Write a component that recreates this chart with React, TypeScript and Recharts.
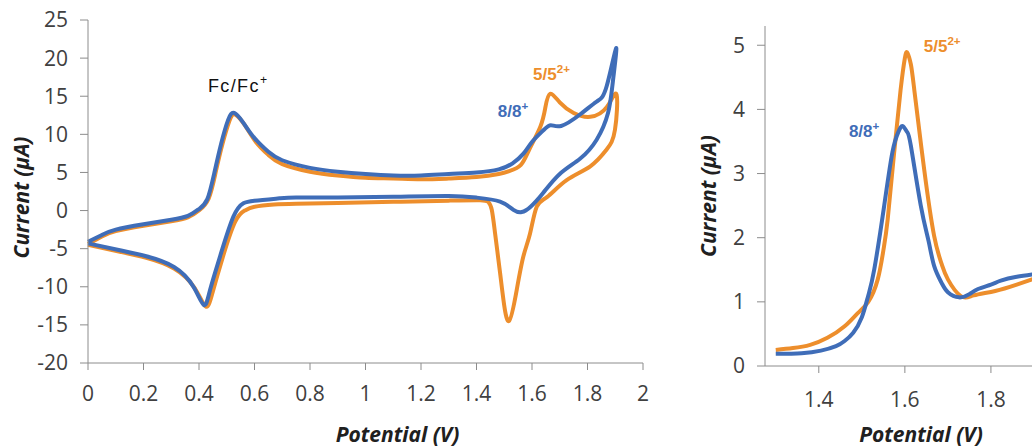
import React from 'react'
import { LineChart, Line, XAxis, YAxis, ReferenceDot } from 'recharts'

// axis ticks
const cvXTicks = [0, 0.2, 0.4, 0.6, 0.8, 1, 1.2, 1.4, 1.6, 1.8, 2]
const cvYTicks = [-20, -15, -10, -5, 0, 5, 10, 15, 20, 25]
const dpvXTicks = [1.4, 1.6, 1.8]
const dpvYTicks = [0, 1, 2, 3, 4, 5]

// CV of 8 (blue), scan order: forward sweep then return sweep
const cv8Potential = [
  0, 0.05, 0.1, 0.2, 0.3, 0.36, 0.4, 0.43, 0.455, 0.48, 0.505, 0.527, 0.56, 0.6, 0.65, 0.7, 0.8, 0.9, 1.0, 1.1,
  1.2, 1.3, 1.4, 1.48, 1.53, 1.57, 1.6, 1.64, 1.668, 1.705, 1.773, 1.833, 1.869, 1.903,
  1.892, 1.874, 1.833, 1.773, 1.7, 1.64, 1.595, 1.563, 1.533, 1.485, 1.4, 1.3, 1.1, 0.9, 0.75, 0.69, 0.6, 0.56,
  0.524, 0.476, 0.44, 0.418, 0.38, 0.31, 0.21, 0.115, 0,
]
const cv8Current = [
  -4.1, -3.2, -2.5, -1.8, -1.2, -0.7, 0.2, 1.5, 4.9, 8.8, 11.9, 12.8, 11.5, 9.5, 7.7, 6.6, 5.6, 5.1, 4.8, 4.6,
  4.6, 4.8, 5.0, 5.4, 6.2, 7.5, 9.0, 10.5, 11.2, 11.1, 12.6, 14.3, 16.3, 21.3,
  17.1, 12.8, 9.3, 6.8, 4.8, 2.3, 0.5, -0.2, 0.1, 1.17, 1.7, 1.9, 1.8, 1.7, 1.7, 1.6, 1.3, 0.96,
  -0.8, -6.0, -10.4, -12.4, -10.0, -7.4, -6.0, -5.2, -4.3,
]

// CV of 5 (orange)
const cv5Potential = [
  0, 0.05, 0.1, 0.2, 0.3, 0.36, 0.4, 0.435, 0.46, 0.485, 0.51, 0.53, 0.565, 0.605, 0.65, 0.7, 0.8, 0.9, 1.0, 1.1,
  1.2, 1.3, 1.4, 1.48, 1.52, 1.56, 1.59, 1.63, 1.648, 1.665, 1.7, 1.75, 1.81, 1.87, 1.905,
  1.899, 1.869, 1.81, 1.725, 1.655, 1.617, 1.593, 1.569, 1.545, 1.517, 1.497, 1.485, 1.467, 1.455, 1.443, 1.413,
  1.3, 1.1, 0.9, 0.75, 0.67, 0.6, 0.565, 0.53, 0.485, 0.45, 0.425, 0.385, 0.31, 0.21, 0.115, 0,
]
const cv5Current = [
  -4.4, -3.4, -2.7, -2.0, -1.4, -0.9, 0.0, 1.6, 5.0, 8.8, 11.8, 12.6, 11.2, 9.0, 7.3, 6.1, 5.1, 4.6, 4.3, 4.2,
  4.1, 4.2, 4.4, 4.8, 5.2, 6.0, 8.0, 11.0, 13.5, 15.3, 14.2, 12.8, 12.3, 13.6, 15.2,
  10.6, 8.0, 5.8, 4.0, 1.8, 0.5, -3.0, -6.0, -10.4, -14.5, -11.7, -8.2, -3.0, 0.1, 1.1, 1.35,
  1.3, 1.15, 1.0, 0.9, 0.8, 0.5, 0.0, -1.5, -6.2, -10.6, -12.6, -10.2, -7.6, -6.2, -5.4, -4.5,
]

// DPV
const dpv5Potential = [
  1.3, 1.34, 1.38, 1.42, 1.46, 1.49, 1.515, 1.537, 1.55, 1.56, 1.575, 1.59, 1.6, 1.606, 1.614, 1.622, 1.645,
  1.668, 1.685, 1.7, 1.73, 1.76, 1.81, 1.86, 1.9, 1.92,
]
const dpv5Current = [
  0.25, 0.28, 0.33, 0.44, 0.62, 0.82, 1.0, 1.35, 1.8, 2.28, 3.32, 4.3, 4.8, 4.88, 4.7, 4.3, 3.06,
  2.03, 1.6, 1.35, 1.09, 1.1, 1.17, 1.27, 1.36, 1.4,
]
const dpv8Potential = [
  1.3, 1.36, 1.405, 1.44, 1.46, 1.48, 1.5, 1.515, 1.529, 1.552, 1.571, 1.585, 1.595, 1.605, 1.614, 1.637, 1.655,
  1.668, 1.685, 1.7, 1.726, 1.75, 1.77, 1.8, 1.823, 1.86, 1.9, 1.92,
]
const dpv8Current = [
  0.19, 0.2, 0.24, 0.31, 0.39, 0.52, 0.76, 1.1, 1.51, 2.5, 3.33, 3.65, 3.74, 3.65, 3.43, 2.5, 1.95,
  1.56, 1.3, 1.15, 1.07, 1.12, 1.2, 1.27, 1.33, 1.39, 1.43, 1.45,
]

const zip = (xs: number[], ys: number[]) => xs.map((x, i) => ({ x, y: ys[i] }))

const ORANGE = '#ED8E2C'
const BLUE = '#3F6DB8'
const AXIS = '#8C8C8C'
const TICK_FONT = "'Open Sans', sans-serif"
const tickStyle = { fill: '#404040', fontSize: 21, fontFamily: TICK_FONT }

const XTitle = ({ viewBox, value, dx = 0 }: any) => (
  <text
    x={viewBox.x + viewBox.width / 2 + dx}
    y={viewBox.y + viewBox.height - 5}
    textAnchor="middle"
    fill="#202020"
    fontFamily={TICK_FONT}
    fontSize={21}
    fontWeight={700}
    fontStyle="italic"
  >
    {value}
  </text>
)

const YTitle = ({ viewBox, value, at, dy = 0 }: any) => {
  const cx = viewBox.x + at
  const cy = viewBox.y + viewBox.height / 2 + dy
  return (
    <text
      x={cx}
      y={cy}
      transform={`rotate(-90 ${cx} ${cy})`}
      textAnchor="middle"
      dominantBaseline="central"
      fill="#202020"
      fontFamily={TICK_FONT}
      fontSize={21}
      fontWeight={700}
      fontStyle="italic"
    >
      {value}
    </text>
  )
}

const Tag = ({ viewBox, text, sup, color, bold, size, spacing = 0 }: any) => (
  <text
    x={viewBox.x}
    y={viewBox.y}
    fill={color}
    fontFamily="'Liberation Sans', Arial, sans-serif"
    fontSize={size}
    fontWeight={bold ? 700 : 400}
    letterSpacing={spacing}
  >
    {text}
    <tspan dy={-size * 0.42} fontSize={size * 0.68}>
      {sup}
    </tspan>
  </text>
)

export default function App() {
  return (
    <div style={{ position: 'absolute', left: 0, top: 0, width: 1032, height: 447, overflow: 'hidden', background: '#fff' }}>
      <div style={{ position: 'absolute', left: 0, top: 0 }}>
        <LineChart width={660} height={447} margin={{ top: 20, right: 17, bottom: 0, left: 0 }}>
          <XAxis
            type="number"
            dataKey="x"
            domain={[0, 2]}
            ticks={cvXTicks}
            interval={0}
            height={84}
            tickSize={7}
            tickMargin={16}
            stroke={AXIS}
            tick={tickStyle}
            label={{ value: 'Potential (V)', content: (p: any) => <XTitle {...p} value="Potential (V)" dx={32} /> }}
          />
          <YAxis
            type="number"
            domain={[-20, 25]}
            ticks={cvYTicks}
            interval={0}
            width={88}
            tickSize={8}
            tickMargin={12}
            stroke={AXIS}
            tick={tickStyle}
            label={{ value: 'Current (μA)', content: (p: any) => <YTitle {...p} value="Current (μA)" at={21} dy={6} /> }}
          />
          <Line data={zip(cv5Potential, cv5Current)} dataKey="y" type="natural" stroke={ORANGE} strokeWidth={4} dot={false} isAnimationActive={false} />
          <Line data={zip(cv8Potential, cv8Current)} dataKey="y" type="natural" stroke={BLUE} strokeWidth={4} dot={false} isAnimationActive={false} />
          <ReferenceDot x={0.432} y={15.6} r={0} fill="none" stroke="none"
            label={{ content: (p: any) => <Tag {...p} text="Fc/Fc" sup="+" color="#111" size={18} spacing={1.4} /> }} />
          <ReferenceDot x={1.604} y={17.1} r={0} fill="none" stroke="none"
            label={{ content: (p: any) => <Tag {...p} text="5/5" sup="2+" color={ORANGE} bold size={17} /> }} />
          <ReferenceDot x={1.477} y={12.3} r={0} fill="none" stroke="none"
            label={{ content: (p: any) => <Tag {...p} text="8/8" sup="+" color={BLUE} bold size={17} /> }} />
        </LineChart>
      </div>
      <div style={{ position: 'absolute', left: 680, top: 0 }}>
        <LineChart width={400} height={447} margin={{ top: 26, right: 3, bottom: 0, left: 0 }}>
          <XAxis
            type="number"
            dataKey="x"
            domain={[1.275, 2.0]}
            ticks={dpvXTicks}
            interval={0}
            height={81}
            tickSize={7}
            tickMargin={19}
            stroke={AXIS}
            tick={tickStyle}
            label={{ value: 'Potential (V)', content: (p: any) => <XTitle {...p} value="Potential (V)" dx={0} /> }}
          />
          <YAxis
            type="number"
            domain={[0, 5.3]}
            ticks={dpvYTicks}
            interval={0}
            width={85}
            tickSize={8}
            tickMargin={12}
            stroke={AXIS}
            tick={tickStyle}
            label={{ value: 'Current (μA)', content: (p: any) => <YTitle {...p} value="Current (μA)" at={28} dy={0} /> }}
          />
          <Line data={zip(dpv5Potential, dpv5Current)} dataKey="y" type="natural" stroke={ORANGE} strokeWidth={4} dot={false} isAnimationActive={false} />
          <Line data={zip(dpv8Potential, dpv8Current)} dataKey="y" type="natural" stroke={BLUE} strokeWidth={4} dot={false} isAnimationActive={false} />
          <ReferenceDot x={1.644} y={4.9} r={0} fill="none" stroke="none"
            label={{ content: (p: any) => <Tag {...p} text="5/5" sup="2+" color={ORANGE} bold size={17} /> }} />
          <ReferenceDot x={1.47} y={3.57} r={0} fill="none" stroke="none"
            label={{ content: (p: any) => <Tag {...p} text="8/8" sup="+" color={BLUE} bold size={17} /> }} />
        </LineChart>
      </div>
    </div>
  )
}
